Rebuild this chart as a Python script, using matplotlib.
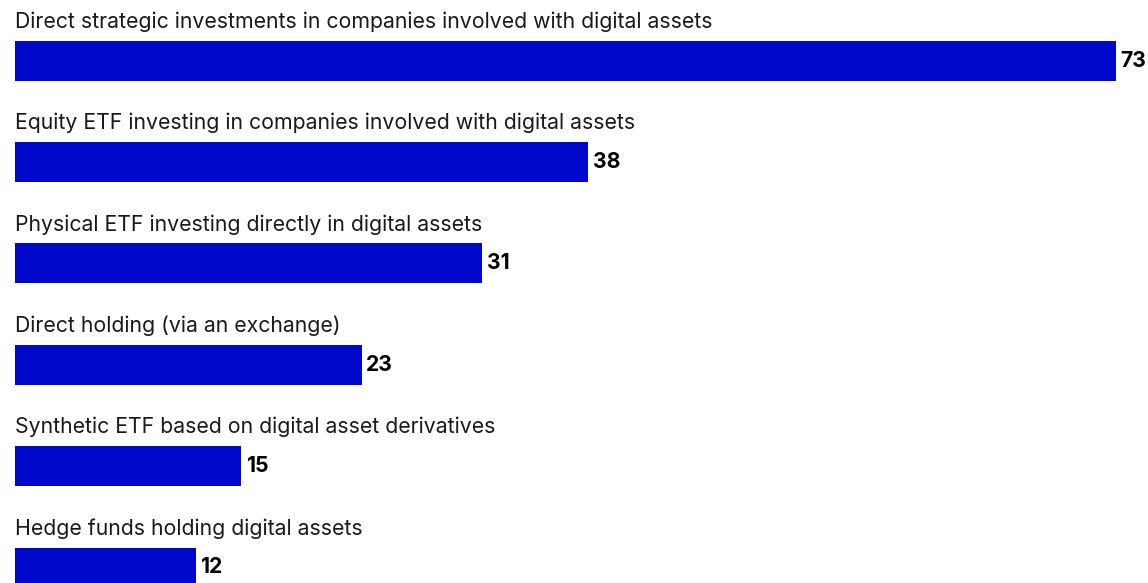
import numpy as np
import matplotlib.pyplot as plt

categories = [
    "Direct strategic investments in companies involved with digital assets",
    "Equity ETF investing in companies involved with digital assets",
    "Physical ETF investing directly in digital assets",
    "Direct holding (via an exchange)",
    "Synthetic ETF based on digital asset derivatives",
    "Hedge funds holding digital assets",
]
values = [73, 38, 31, 23, 15, 12]

plt.rcParams["font.family"] = ["Inter", "DejaVu Sans"]

fig = plt.figure(figsize=(11.48, 5.83), dpi=100)
ax = fig.add_axes([15 / 1148, 0, 1133 / 1148, 1])

y = np.arange(len(values))
color = "#0008CC"
ax.barh(y, values, height=0.394, color=color)

for i, (cat, v) in enumerate(zip(categories, values)):
    ax.text(0, i - 0.385, cat, va="center", ha="left", fontsize=15.3,
            color="#1a1a1a")
    ax.text(v + 0.3, i, str(v), va="center", ha="left", fontsize=15.3,
            fontweight="bold", color="black")

ax.set_xlim(0, 1133 / 15.08)
ax.set_ylim(5.153, -0.597)
ax.axis("off")

fig.savefig("out.png", dpi=100)
